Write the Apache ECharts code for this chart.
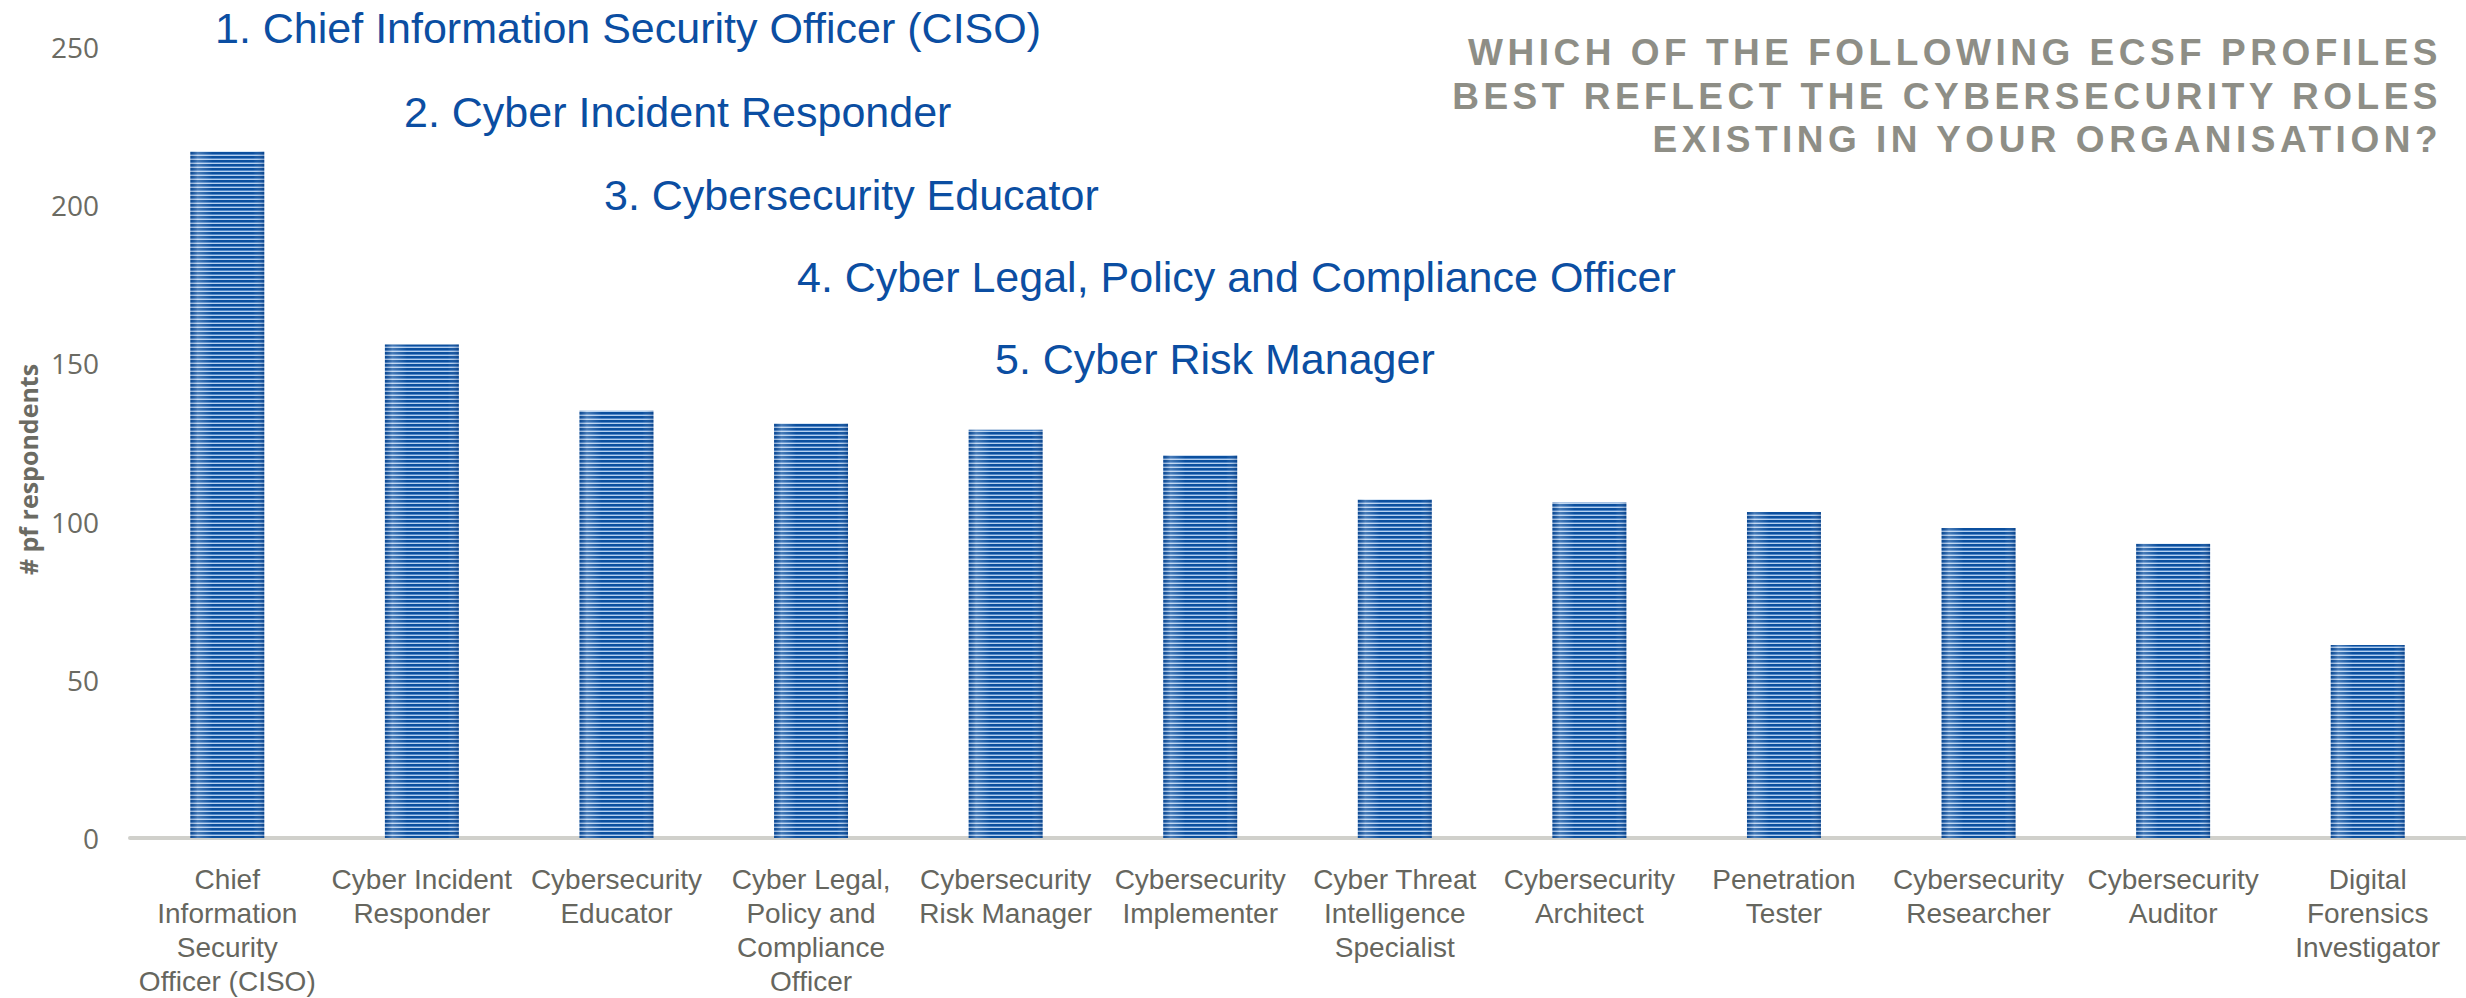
<!DOCTYPE html>
<html>
<head>
<meta charset="utf-8">
<script src="https://cdn.jsdelivr.net/npm/echarts@6/dist/echarts.min.js"></script>
<style>
  html, body { margin: 0; padding: 0; background: #fff; }
  /* tracking for the grey question title */
  #main svg text[fill="#8e8e86"] { letter-spacing: 4.5px; }
</style>
</head>
<body>

<div id="main" style="width: 2466px;height:998px;"></div>
<script type="text/javascript">
    // data
    var categories = [
        'Chief\nInformation\nSecurity\nOfficer (CISO)',
        'Cyber Incident\nResponder',
        'Cybersecurity\nEducator',
        'Cyber Legal,\nPolicy and\nCompliance\nOfficer',
        'Cybersecurity\nRisk Manager',
        'Cybersecurity\nImplementer',
        'Cyber Threat\nIntelligence\nSpecialist',
        'Cybersecurity\nArchitect',
        'Penetration\nTester',
        'Cybersecurity\nResearcher',
        'Cybersecurity\nAuditor',
        'Digital\nForensics\nInvestigator'
    ];
    var respondents = [217, 156, 135, 131, 129, 121, 107, 106, 103, 98, 93, 61];
    var yTicks = [0, 50, 100, 150, 200, 250];
    var topFive = [
        '1. Chief Information Security Officer (CISO)',
        '2. Cyber Incident Responder',
        '3. Cybersecurity Educator',
        '4. Cyber Legal, Policy and Compliance Officer',
        '5. Cyber Risk Manager'
    ];
    var titleLines = [
        'WHICH OF THE FOLLOWING ECSF PROFILES',
        'BEST REFLECT THE CYBERSECURITY ROLES',
        'EXISTING IN YOUR ORGANISATION?'
    ];

    // striped fill like the original bars
    var stripe = document.createElement('canvas');
    stripe.width = 4;
    stripe.height = 4;
    var sctx = stripe.getContext('2d');
    sctx.fillStyle = '#0b4f9e';
    sctx.fillRect(0, 0, 4, 2);
    sctx.fillStyle = '#4f86c8';
    sctx.fillRect(0, 2, 4, 1);
    sctx.fillStyle = '#b4cfee';
    sctx.fillRect(0, 3, 4, 1);

    var myChart = echarts.init(document.getElementById('main'), null, { renderer: 'svg' });

    var annX = [215, 404, 604, 797, 995];
    var annY = [28, 112, 195, 277, 359];
    var graphics = topFive.map(function (t, i) {
        return {
            type: 'text',
            x: annX[i],
            y: annY[i],
            style: {
                text: t,
                font: '43px "Liberation Sans", Arial, sans-serif',
                fill: '#0b4ea2',
                textAlign: 'left',
                textVerticalAlign: 'middle'
            }
        };
    });
    var titleY = [52, 96, 139];
    titleLines.forEach(function (t, i) {
        graphics.push({
            type: 'text',
            x: 2442,
            y: titleY[i],
            style: {
                text: t,
                font: 'bold 37px "Liberation Sans", Arial, sans-serif',
                fill: '#8e8e86',
                textAlign: 'right',
                textVerticalAlign: 'middle'
            }
        });
    });

    var option = {
        animation: false,
        grid: { left: 130, right: 1, top: 47, bottom: 151 },
        graphic: graphics,
        xAxis: {
            type: 'category',
            data: categories,
            axisLine: { lineStyle: { color: '#d0d0cb', width: 4 } },
            axisTick: { show: false },
            axisLabel: {
                interval: 0,
                margin: 24,
                color: '#66665e',
                fontFamily: '"Liberation Sans", Arial, sans-serif',
                fontSize: 28,
                lineHeight: 34
            }
        },
        yAxis: {
            type: 'value',
            min: yTicks[0],
            max: yTicks[yTicks.length - 1],
            interval: 50,
            name: '# pf respondents',
            nameLocation: 'middle',
            nameGap: 88,
            nameTextStyle: {
                color: '#6b6b63',
                fontFamily: '"Open Sans", sans-serif',
                fontWeight: 'bold',
                fontSize: 25,
                padding: [0, 54, 0, 0]
            },
            splitLine: { show: false },
            axisLine: { show: false },
            axisTick: { show: false },
            axisLabel: {
                margin: 31,
                color: '#6b6b63',
                fontFamily: '"Open Sans", sans-serif',
                fontSize: 28
            }
        },
        series: [{
            name: 'respondents',
            type: 'bar',
            data: respondents,
            barCategoryGap: '62%',
            itemStyle: {
                color: { image: stripe, repeat: 'repeat' }
            }
        }, {
            // soft edge shading on top of the stripes
            name: 'shade',
            type: 'bar',
            data: respondents,
            barGap: '-100%',
            barCategoryGap: '62%',
            silent: true,
            itemStyle: {
                color: new echarts.graphic.LinearGradient(0, 0, 1, 0, [
                    { offset: 0, color: 'rgba(0,40,100,0.2)' },
                    { offset: 0.1, color: 'rgba(255,255,255,0.25)' },
                    { offset: 0.3, color: 'rgba(255,255,255,0)' },
                    { offset: 0.85, color: 'rgba(255,255,255,0)' },
                    { offset: 1, color: 'rgba(0,40,100,0.3)' }
                ])
            }
        }]
    };

    myChart.setOption(option);
</script>
</body>
</html>
